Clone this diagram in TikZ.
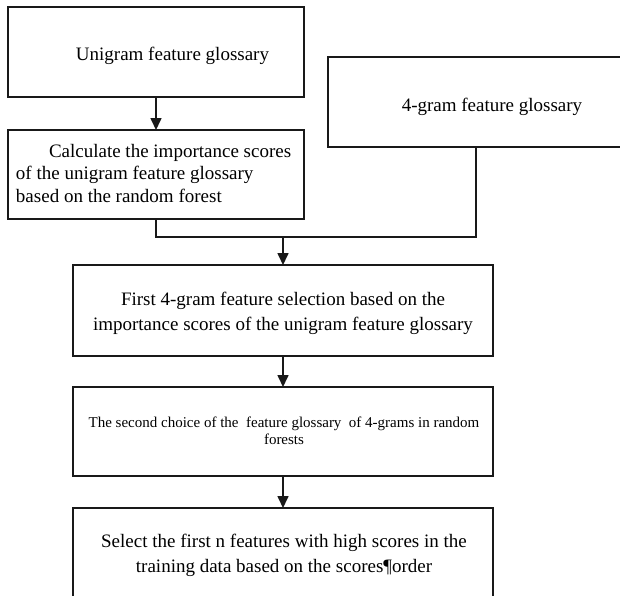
\documentclass[tikz,border=0pt]{standalone}
\usepackage{fontspec}
\setmainfont{Liberation Serif}
\usetikzlibrary{arrows.meta}
\begin{document}
\begin{tikzpicture}[x=1pt,y=-1pt,
  box/.style={draw=black!90, line width=1.6pt, inner sep=0pt, outer sep=0pt},
  txt/.style={inner sep=0pt, outer sep=0pt, font=\fontsize{19}{22.5}\selectfont},
  txtb/.style={inner sep=0pt, outer sep=0pt, align=center, font=\fontsize{19}{25}\selectfont},
  txts/.style={inner sep=0pt, outer sep=0pt, align=center, font=\fontsize{15}{17}\selectfont},
  arr/.style={draw=black!90, line width=1.6pt, -{Triangle[length=12pt,width=11pt]}},
  conn/.style={draw=black!90, line width=1.6pt}]
\useasboundingbox (0,0) rectangle (620,595);
% boxes
\node[box, minimum width=296pt, minimum height=90pt] (b1) at (156,52) {};
\node[box, minimum width=296pt, minimum height=89pt] (b2) at (156,174.5) {};
\node[box, minimum width=296pt, minimum height=90pt] (b3) at (476,102) {};
\node[box, minimum width=420pt, minimum height=91pt] (b4) at (283,310.5) {};
\node[box, minimum width=420pt, minimum height=89pt] (b5) at (283,431.5) {};
\node[box, minimum width=420pt, minimum height=100pt] (b6) at (283,558) {};
% texts
\node[txt, anchor=base] (t1) at (172.5,60) {Unigram feature glossary};
\node[txt, anchor=base] (t3) at (492,111) {4-gram feature glossary};
\node[txt, anchor=base west, align=left] (t2) at (16,202)
  {\hspace*{33pt}Calculate the importance scores\\of the unigram feature glossary\\based on the random forest};
\node[txtb, anchor=base] (t4) at (283,330)
  {First 4-gram feature selection based on the\\importance scores of the unigram feature glossary};
\node[txts, anchor=base] (t5) at (284,444)
  {The second choice of the\ \ feature glossary\ \ of 4-grams in random\\forests};
\node[txtb, anchor=base] (t6) at (284,572)
  {Select the first n features with high scores in the\\training data based on the scores¶order};
% connectors
\coordinate (j) at (283,237);
\draw[arr] (b1.south) -- (b2.north);
\draw[conn] (b2.south) |- (j) -| (b3.south);
\draw[arr] (j) -- (b4.north);
\draw[arr] (b4.south) -- (b5.north);
\draw[arr] (b5.south) -- (b6.north);
\end{tikzpicture}
\end{document}
